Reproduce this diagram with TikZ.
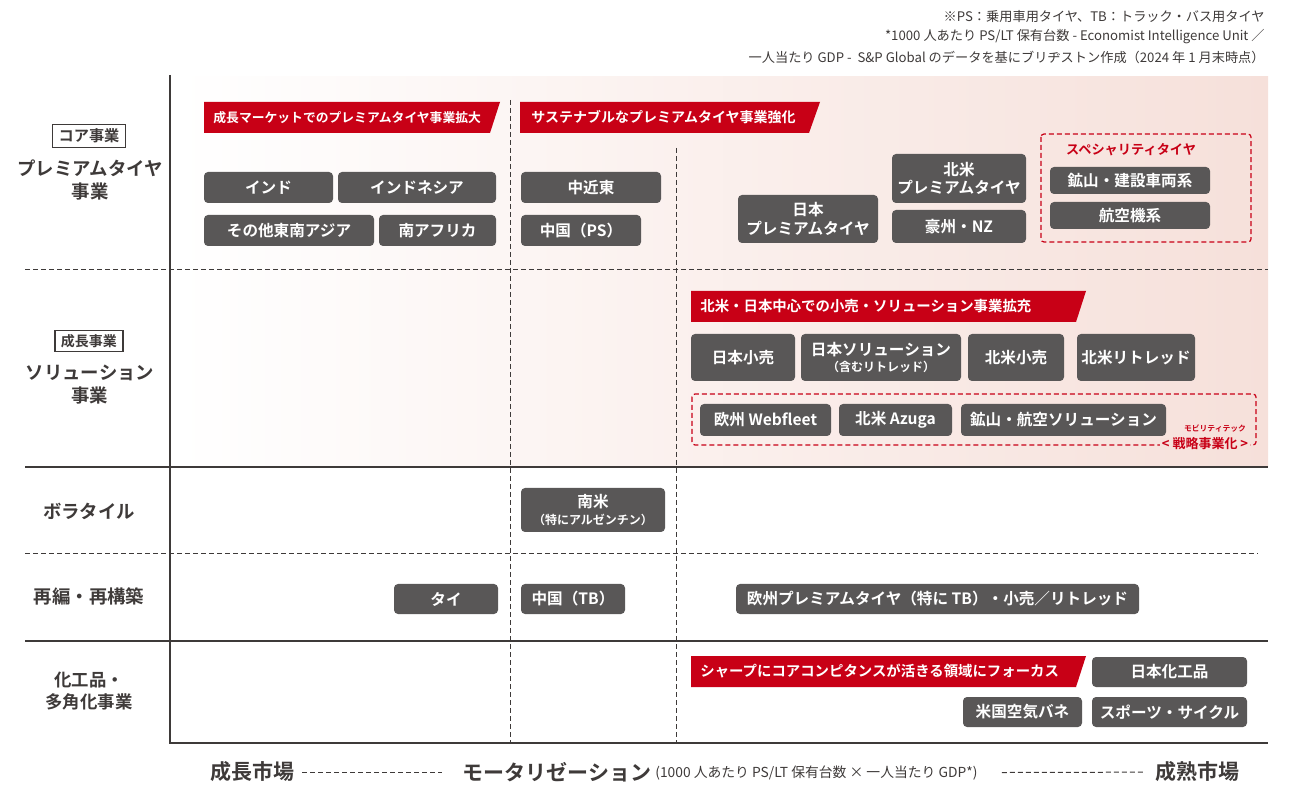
\documentclass[tikz,border=0pt]{standalone}
\usepackage{fontspec}
\setmainfont{Noto Sans CJK JP}[BoldFont={Noto Sans CJK JP Bold}]
\usetikzlibrary{positioning}

\definecolor{boxgray}{RGB}{89,87,87}
\definecolor{linegray}{RGB}{62,58,57}
\definecolor{bannerred}{RGB}{200,0,22}
\definecolor{bgpink}{RGB}{246,224,218}

\begin{document}
\begin{tikzpicture}[x=0.5pt,y=-0.5pt,
    gbox/.style 2 args={fill=boxgray,rounded corners=2pt,text=white,inner sep=0pt,align=center,
      minimum width=#1pt,minimum height=#2pt,font=\bfseries\fontsize{7.8}{9.2}\selectfont},
    bannertext/.style={text=white,anchor=west,inner sep=0pt,font=\bfseries\fontsize{#1}{8}\selectfont},
    rowlabel/.style={align=center,text=linegray,font=\bfseries\fontsize{9.2}{11.5}\selectfont},
    tagbox/.style={draw=linegray,line width=0.6pt,inner xsep=3pt,inner ysep=2pt,text=linegray,
      font=\bfseries\fontsize{7.6}{8.5}\selectfont},
    note/.style={anchor=east,inner sep=0pt,text=linegray,font=\fontsize{6.6}{8}\selectfont},
    axislabel/.style={text=linegray,inner sep=0pt,font=\bfseries\fontsize{10.5}{12}\selectfont},
    sep/.style={linegray,line width=0.8pt},
    dsep/.style={linegray,line width=0.5pt,dash pattern=on 2.5pt off 1.5pt},
    reddash/.style={draw=bannerred,line width=0.6pt,dash pattern=on 2.5pt off 1.5pt,rounded corners=1.5pt},
    redtext/.style={text=bannerred,inner sep=0pt,font=\bfseries\fontsize{#1}{8}\selectfont}]

  \useasboundingbox (0,0) rectangle (1306,785);

  % background
  \shade[left color=white,right color=bgpink] (177,77) rectangle (1268,467);

  % notes
  \node[note] (note1) at (1265,17) {※PS：乗用車用タイヤ、TB：トラック・バス用タイヤ};
  \node[note] (note2) at (1265,37) {*1000 人あたり PS/LT 保有台数 - Economist Intelligence Unit ／};
  \node[note] (note3) at (1265,57) {一人当たり GDP -\ \ S\&P Global のデータを基にブリヂストン作成（2024 年 1 月末時点）};

  % grid
  \draw[dsep] (25,270) -- (1268,270);
  \draw[sep] (25,467) -- (1268,467);
  \draw[dsep] (25,554) -- (1258,554);
  \draw[sep] (25,641) -- (1268,641);
  \draw[dsep] (510,100) -- (510,743);
  \draw[dsep] (676,148) -- (676,743);
  \draw[linegray,line width=1.3pt] (170,75) -- (170,743) -- (1268,743);

  % row labels
  \node[tagbox] (core) at (89,136) {コア事業};
  \node[rowlabel] (premium) at (90,180) {プレミアムタイヤ\\事業};
  \node[tagbox,font=\bfseries\fontsize{7}{8}\selectfont] (growth) at (89,341) {成長事業};
  \node[rowlabel] (solution) at (90,385) {ソリューション\\事業};
  \node[rowlabel] (volatile) at (89,511) {ボラタイル};
  \node[rowlabel] (restruct) at (89,596) {再編・再構築};
  \node[rowlabel,font=\bfseries\fontsize{8.7}{11}\selectfont] (diverse) at (89,691) {化工品・\\多角化事業};

  % banners
  \fill[bannerred] (204,102) -- (500,102) -- (490,133) -- (204,133) -- cycle;
  \node[bannertext=6.4] (ban1) at (213,117.5) {成長マーケットでのプレミアムタイヤ事業拡大};
  \fill[bannerred] (520,102) -- (820,102) -- (809,133) -- (520,133) -- cycle;
  \node[bannertext=7] (ban2) at (531,117.5) {サステナブルなプレミアムタイヤ事業強化};
  \fill[bannerred] (691,291) -- (1086,291) -- (1076,322) -- (691,322) -- cycle;
  \node[bannertext=7.2] (ban3) at (700,306.5) {北米・日本中心での小売・ソリューション事業拡充};
  \fill[bannerred] (691,656) -- (1086,656) -- (1076,687) -- (691,687) -- cycle;
  \node[bannertext=7.2] (ban4) at (700,671.5) {シャープにコアコンピタンスが活きる領域にフォーカス};

  % premium tyre row
  \node[gbox={64.5}{15.5}] (india) at (268.5,187.5) {インド};
  \node[gbox={79}{15.5}] (indonesia) at (417,187.5) {インドネシア};
  \node[gbox={85}{15.5}] (seasia) at (289,230.5) {その他東南アジア};
  \node[gbox={58.5}{15.5}] (safrica) at (437.5,230.5) {南アフリカ};
  \node[gbox={70}{15.5}] (mideast) at (591,187.5) {中近東};
  \node[gbox={60}{15.5}] (chinaps) at (581,230.5) {中国（PS）};
  \node[gbox={70}{24}] (jpprem) at (808,219) {日本\\プレミアムタイヤ};
  \node[gbox={67}{24.5}] (naprem) at (959,178.5) {北米\\プレミアムタイヤ};
  \node[gbox={67}{16.5}] (aunz) at (959,226.5) {豪州・NZ};
  \draw[reddash] (1041,134) rectangle (1251,242);
  \node[redtext=6.6] (special) at (1131,150) {スペシャリティタイヤ};
  \node[gbox={80}{13.5}] (mining) at (1130,180.5) {鉱山・建設車両系};
  \node[gbox={80}{13.5}] (aero) at (1130,215.5) {航空機系};

  % solution row
  \node[gbox={52}{23.5}] (jpretail) at (743,357.5) {日本小売};
  \node[gbox={80}{23.5}] (jpsol) at (881,357.5) {日本ソリューション\\[-1pt]{\fontsize{6}{7}\selectfont（含むリトレッド）}};
  \node[gbox={48}{23.5}] (naretail) at (1016,357.5) {北米小売};
  \node[gbox={59}{23.5}] (naretread) at (1136,357.5) {北米リトレッド};
  \draw[reddash] (692,394) rectangle (1256,445);
  \node[gbox={65.5}{16}] (webfleet) at (765.5,420) {欧州 Webfleet};
  \node[gbox={56.5}{16}] (azuga) at (895.5,420) {北米 Azuga};
  \node[gbox={102.5}{16}] (minsol) at (1063.5,420) {鉱山・航空ソリューション};
  \node[redtext=3.9] (mobility) at (1215,429) {モビリティテック};
  \node[redtext=6.5,fill=bgpink!96!white,inner xsep=1pt] (strategic) at (1205,444) {< 戦略事業化 >};

  % volatile / restructuring rows
  \node[gbox={72}{22}] (samerica) at (593,510) {南米\\[-1pt]{\fontsize{6}{7}\selectfont（特にアルゼンチン）}};
  \node[gbox={52}{15}] (thai) at (446,599) {タイ};
  \node[gbox={52}{15}] (chinatb) at (573,599) {中国（TB）};
  \node[gbox={201.5}{15}] (euprem) at (937.5,599) {欧州プレミアムタイヤ（特に TB）・小売／リトレッド};

  % diversified row
  \node[gbox={77.5}{15}] (jpchem) at (1169.5,672) {日本化工品};
  \node[gbox={59.5}{15}] (usair) at (1022.5,712) {米国空気バネ};
  \node[gbox={77.5}{15}] (sports) at (1169.5,712) {スポーツ・サイクル};

  % x axis
  \node[axislabel] (grow) at (252,772) {成長市場};
  \node[axislabel] (motor) at (557,772) {モータリゼーション};
  \node[anchor=west,inner sep=0pt,text=linegray,font=\fontsize{6.9}{8}\selectfont] (formula) at (655,773)
    {(1000 人あたり PS/LT 保有台数 × 一人当たり GDP*)};
  \node[axislabel] (mature) at (1197,772) {成熟市場};
  \draw[dsep,shorten <=4pt,shorten >=10pt] (grow) -- (motor);
  \draw[dsep,shorten <=12pt,shorten >=5pt] (formula) -- (mature);

\end{tikzpicture}
\end{document}
